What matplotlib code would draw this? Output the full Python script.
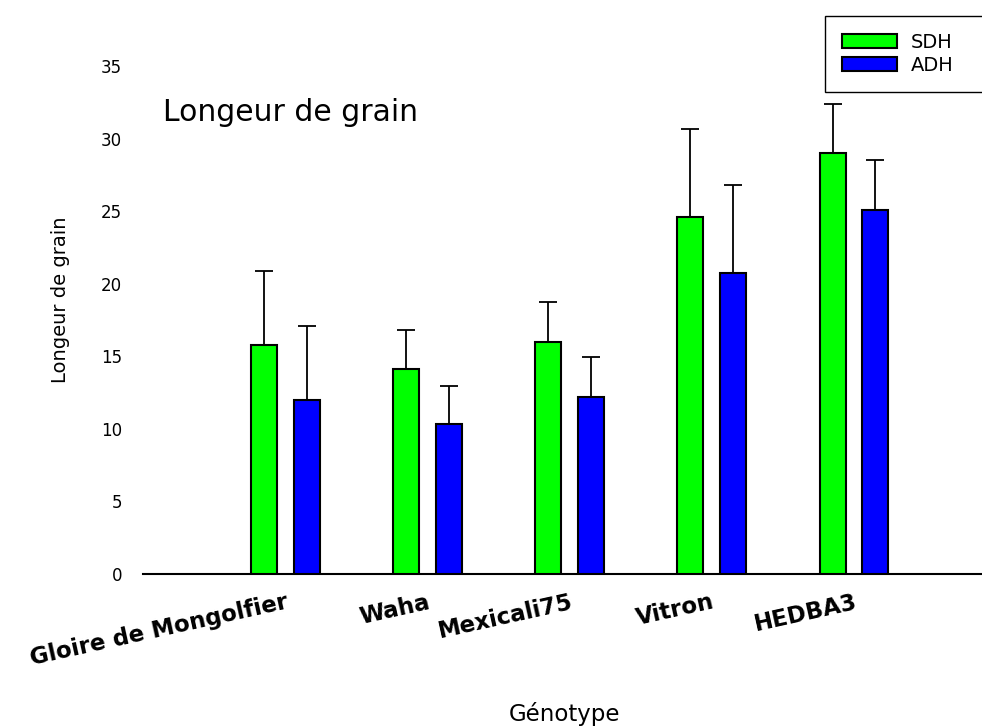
import numpy as np
import matplotlib
matplotlib.use("Agg")
import matplotlib.pyplot as plt

# data
genotypes = ["Gloire de Mongolfier", "Waha", "Mexicali75", "Vitron", "HEDBA3"]
sdh_mean = [15.8, 14.15, 16.0, 24.6, 29.0]
sdh_err = [5.1, 2.65, 2.75, 6.05, 3.4]
adh_mean = [12.0, 10.35, 12.2, 20.75, 25.1]
adh_err = [5.1, 2.6, 2.75, 6.05, 3.45]
yticks = [0, 5, 10, 15, 20, 25, 30, 35]

W, H = 982, 727
fig = plt.figure(figsize=(W / 100, H / 100), dpi=100)
ax = fig.add_axes([143 / W, 1 - 574 / H, (W - 143) / W, (574 - 22.5) / H])

x = np.arange(len(genotypes))
bw = 0.183
off = 0.15

ax.bar(x - off, sdh_mean, bw, color="#00ff00", edgecolor="black", linewidth=1.5,
       label="SDH", zorder=3)
ax.bar(x + off, adh_mean, bw, color="#0000ff", edgecolor="black", linewidth=1.5,
       label="ADH", zorder=3)

ax.errorbar(x - off, sdh_mean, yerr=[np.zeros(len(x)), sdh_err], fmt="none",
            ecolor="black", elinewidth=1.3, capsize=6.5, capthick=1.3, zorder=2)
ax.errorbar(x + off, adh_mean, yerr=[np.zeros(len(x)), adh_err], fmt="none",
            ecolor="black", elinewidth=1.3, capsize=6.5, capthick=1.3, zorder=2)

ax.set_xlim(-1.0, 4.9)
ax.set_ylim(0, 38)

for s in ["top", "right", "left"]:
    ax.spines[s].set_visible(False)
ax.spines["bottom"].set_linewidth(1.5)

ax.set_yticks(yticks)
ax.set_yticklabels([str(v) for v in yticks], fontsize=12)
ax.tick_params(axis="y", length=0, pad=15)

ax.set_xticks(x)
ax.set_xticklabels(genotypes, fontsize=16.5, fontweight="bold", rotation=12.5,
                   ha="right", rotation_mode="anchor")
ax.tick_params(axis="x", length=0, pad=12)

fig.text(60 / W, 1 - 300 / H, "Longeur de grain", rotation=90, fontsize=14,
         ha="center", va="center")
fig.text(565 / W, 1 - 714 / H, "Génotype", fontsize=16.5, ha="center", va="center")
fig.text(163 / W, 1 - 121 / H, "Longeur de grain", fontsize=21.5,
         ha="left", va="baseline")

leg = fig.legend(loc="upper left", bbox_to_anchor=(825 / W, 1 - 97 / H, 180 / W, 81 / H),
                 mode="expand", fontsize=14, handlelength=2.83, handleheight=0.72,
                 handletextpad=0.72, borderpad=0.85, labelspacing=0.23,
                 fancybox=False, framealpha=1, borderaxespad=0)
leg.get_frame().set_edgecolor("black")
leg.get_frame().set_linewidth(1.0)

fig.savefig("out.png", dpi=100)
